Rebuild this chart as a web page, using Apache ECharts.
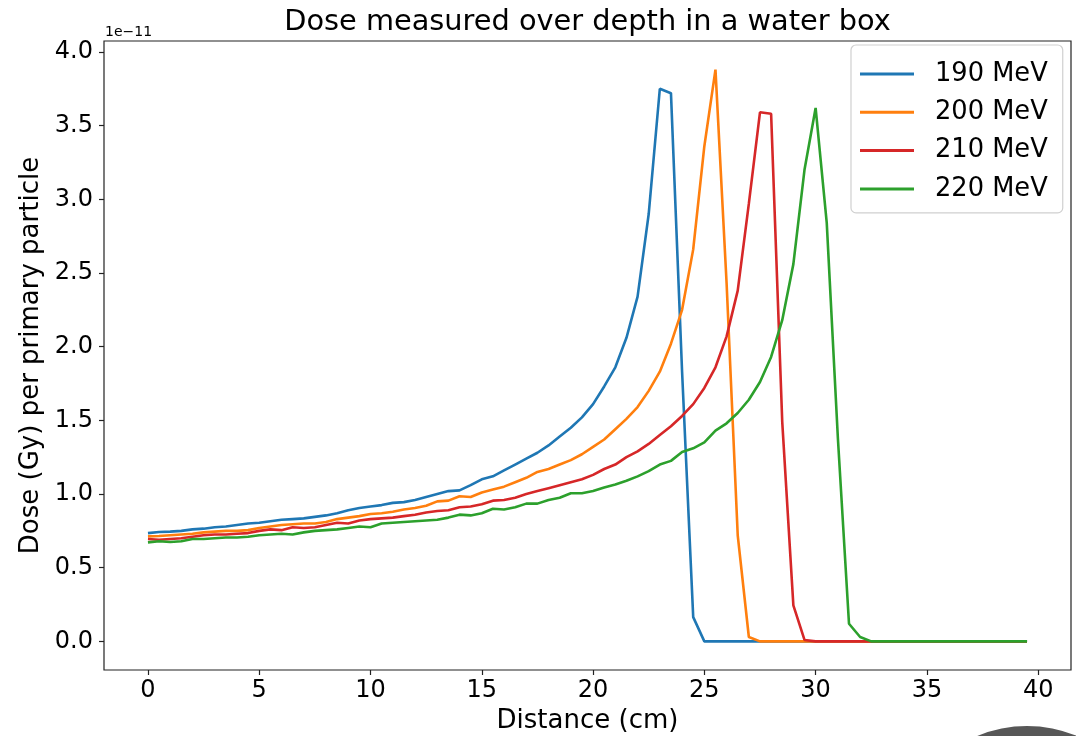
<!DOCTYPE html>
<html>
<head>
<meta charset="utf-8">
<script src="https://cdn.jsdelivr.net/npm/echarts@6/dist/echarts.min.js"></script>
<style>
html,body{margin:0;padding:0;background:#fff;}
#chart{width:1076px;height:736px;}
</style>
</head>
<body>
<div id="chart"></div>
<script>
// Distance (cm)
const distance = [0,0.5,1,1.5,2,2.5,3,3.5,4,4.5,5,5.5,6,6.5,7,7.5,8,8.5,9,9.5,
  10,10.5,11,11.5,12,12.5,13,13.5,14,14.5,15,15.5,16,16.5,17,17.5,18,18.5,19,19.5,
  20,20.5,21,21.5,22,22.5,23,23.5,24,24.5,25,25.5,26,26.5,27,27.5,28,28.5,29,29.5,
  30,30.5,31,31.5,32,32.5,33,33.5,34,34.5,35,35.5,36,36.5,37,37.5,38,38.5,39,39.5];

// Dose per primary particle, in units of 1e-11 Gy
const dose190 = [0.735,0.742,0.745,0.75,0.76,0.765,0.775,0.78,0.79,0.80,
  0.805,0.815,0.825,0.83,0.835,0.845,0.855,0.87,0.89,0.905,
  0.915,0.925,0.94,0.945,0.96,0.98,1.0,1.02,1.025,1.06,
  1.10,1.12,1.16,1.20,1.24,1.28,1.33,1.39,1.45,1.52,
  1.61,1.73,1.86,2.06,2.34,2.90,3.75,3.72,1.83,0.165,
  0,0,0,0,0,0,0,0,0,0,
  0,0,0,0,0,0,0,0,0,0,
  0,0,0,0,0,0,0,0,0,0];
const dose200 = [0.713,0.715,0.72,0.725,0.73,0.74,0.745,0.75,0.75,0.755,
  0.77,0.78,0.79,0.795,0.80,0.80,0.81,0.83,0.84,0.85,
  0.865,0.87,0.88,0.895,0.905,0.92,0.95,0.955,0.985,0.98,
  1.01,1.03,1.05,1.08,1.11,1.15,1.17,1.20,1.23,1.27,
  1.32,1.37,1.44,1.51,1.59,1.70,1.83,2.02,2.25,2.66,
  3.36,3.88,2.43,0.72,0.03,0,0,0,0,0,
  0,0,0,0,0,0,0,0,0,0,
  0,0,0,0,0,0,0,0,0,0];
const dose210 = [0.695,0.69,0.695,0.70,0.71,0.72,0.725,0.725,0.73,0.735,
  0.75,0.76,0.755,0.775,0.77,0.775,0.79,0.805,0.80,0.82,
  0.83,0.835,0.84,0.85,0.86,0.875,0.885,0.89,0.91,0.915,
  0.93,0.955,0.96,0.975,1.00,1.02,1.04,1.06,1.08,1.10,
  1.13,1.17,1.20,1.25,1.29,1.34,1.40,1.46,1.53,1.61,
  1.72,1.86,2.07,2.38,2.97,3.59,3.58,1.49,0.245,0.01,
  0,0,0,0,0,0,0,0,0,0,
  0,0,0,0,0,0,0,0,0,0];
const dose220 = [0.672,0.68,0.675,0.68,0.695,0.695,0.70,0.705,0.705,0.71,
  0.72,0.725,0.73,0.725,0.74,0.75,0.755,0.76,0.77,0.78,
  0.775,0.80,0.805,0.81,0.815,0.82,0.825,0.84,0.86,0.855,
  0.87,0.90,0.895,0.91,0.935,0.935,0.96,0.975,1.005,1.005,
  1.02,1.045,1.065,1.09,1.12,1.155,1.20,1.225,1.285,1.31,
  1.35,1.43,1.48,1.55,1.64,1.76,1.93,2.18,2.56,3.20,
  3.62,2.84,1.38,0.12,0.03,0,0,0,0,0,
  0,0,0,0,0,0,0,0,0,0];

const seriesNames = ['190 MeV','200 MeV','210 MeV','220 MeV'];
const xTicks = [0,5,10,15,20,25,30,35,40];
const yTicks = [0,0.5,1,1.5,2,2.5,3,3.5,4];

const colors = ['#1f77b4','#ff7f0e','#d62728','#2ca02c'];
const allDose = [dose190, dose200, dose210, dose220];
const FONT = 'DejaVu Sans';

const chart = echarts.init(document.getElementById('chart'), null, {renderer:'canvas'});
chart.setOption({
  backgroundColor:'#fff',
  animation:false,
  color: colors,
  grid:{left:104, top:41, right:5, bottom:66, containLabel:false, outerBoundsMode:'none',
        show:true, borderColor:'#222', borderWidth:1.2, backgroundColor:'transparent'},
  xAxis:{
    type:'value', min:-1.975, max:41.475,
    name:'Distance (cm)', nameLocation:'middle', nameGap:37,
    nameTextStyle:{fontFamily:FONT, fontSize:26, color:'#000'},
    axisLine:{show:false, onZero:false},
    splitLine:{show:false},
    axisTick:{show:true, inside:false, length:5, customValues:xTicks, lineStyle:{color:'#222', width:1.2}},
    axisLabel:{customValues:xTicks, margin:9, fontFamily:FONT, fontSize:24, color:'#000', formatter: v => String(v)}
  },
  yAxis:{
    type:'value', min:-0.194, max:4.074,
    name:'Dose (Gy) per primary particle', nameLocation:'middle', nameGap:52,
    nameTextStyle:{fontFamily:FONT, fontSize:26, color:'#000'},
    axisLine:{show:false, onZero:false},
    splitLine:{show:false},
    axisTick:{show:true, inside:false, length:5, customValues:yTicks, lineStyle:{color:'#222', width:1.2}},
    axisLabel:{customValues:yTicks, margin:11, fontFamily:FONT, fontSize:24, color:'#000', formatter: v => v.toFixed(1)}
  },
  legend:{
    orient:'vertical', left:851, top:45,
    data: seriesNames,
    icon:'rect', itemWidth:54, itemHeight:3, itemGap:8.3,
    padding:[14,15,9,9],
    backgroundColor:'rgba(255,255,255,0.8)',
    borderColor:'#d0d0d0', borderWidth:1.2, borderRadius:5,
    textStyle:{fontFamily:FONT, fontSize:25.7, color:'#000', lineHeight:30, padding:[0,0,0,16]}
  },
  graphic:[
    {type:'text', style:{text:'Dose measured over depth in a water box', x:587.5, y:23, textAlign:'center', textVerticalAlign:'middle', fontFamily:FONT, fontSize:28.8, fill:'#000'}},
    {type:'text', style:{text:'1e\u221211', x:105, y:32.5, textAlign:'left', textVerticalAlign:'middle', fontFamily:FONT, fontSize:14, fill:'#000'}},
    {type:'circle', shape:{cx:1027, cy:856, r:130}, style:{fill:'#575757'}, z:-1}
  ],
  series: allDose.map((d, i) => ({
    name: seriesNames[i], type:'line', symbol:'none', smooth:false,
    lineStyle:{width:2.6, color:colors[i]},
    itemStyle:{color:colors[i]},
    data: distance.map((x, j) => [x, d[j]])
  }))
});
</script>
</body>
</html>
